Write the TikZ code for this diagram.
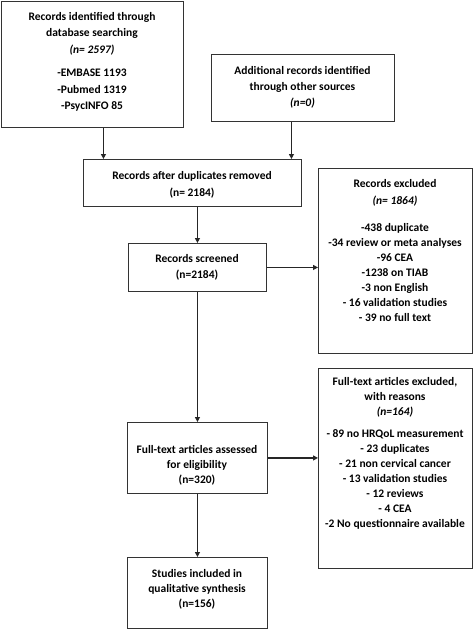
\documentclass[tikz,border=0pt]{standalone}
\usepackage{fontspec}
\setmainfont{Carlito}
\usetikzlibrary{arrows.meta}
\begin{document}
\begin{tikzpicture}[x=1pt,y=-1pt,
  box/.style={draw=black!80,line width=0.9pt,inner sep=0pt,anchor=north west},
  txt/.style={inner sep=0pt,anchor=north,align=center,font=\fontsize{11.5}{15}\selectfont\bfseries},
  arr/.style={draw=black!85,line width=1.4pt,-{Triangle[length=5pt,width=5pt]}}]
\useasboundingbox (0,0) rectangle (473,629);
% boxes
\node[box,minimum width=182pt,minimum height=126pt] (b1) at (1,1) {};
\node[box,minimum width=183pt,minimum height=67pt] (b2) at (211,54) {};
\node[box,minimum width=218pt,minimum height=47pt] (b3) at (83,159) {};
\node[box,minimum width=138pt,minimum height=48pt] (b4) at (128,243) {};
\node[box,minimum width=154pt,minimum height=185pt] (b5) at (318,168) {};
\node[box,minimum width=154pt,minimum height=200pt] (b6) at (318,368) {};
\node[box,minimum width=140pt,minimum height=71pt] (b7) at (127,422) {};
\node[box,minimum width=140pt,minimum height=71pt] (b8) at (127,557) {};
% texts
\node[txt,font=\fontsize{11.5}{16.5}\selectfont\bfseries] (t1) at (92,12) {Records identified through\\database searching\\\textit{(n= 2597)}\\[7pt]-EMBASE 1193\\-Pubmed 1319\\-PsycINFO 85};
\node[txt,font=\fontsize{11.5}{16}\selectfont\bfseries] (t2) at (302.5,66) {Additional records identified\\through other sources\\\textit{(n=0)}};
\node[txt,font=\fontsize{11.5}{17}\selectfont\bfseries] (t3) at (192,171) {Records after duplicates removed\\(n= 2184)};
\node[txt,font=\fontsize{11.5}{16}\selectfont\bfseries] (t4) at (197,254) {Records screened\\(n=2184)};
\node[txt] (t5) at (395,179) {Records excluded\\[2pt]\textit{(n= 1864)}\\[12pt]-438 duplicate\\-34 review or meta analyses\\-96 CEA\\-1238 on TIAB\\-3 non English\\- 16 validation studies\\- 39 no full text};
\node[txt] (t6) at (395,377) {Full-text articles excluded,\\with reasons\\\textit{(n=164)}\\[7pt]- 89 no HRQoL measurement\\- 23 duplicates\\- 21 non cervical cancer\\- 13 validation studies\\- 12 reviews\\- 4 CEA\\-2 No questionnaire available};
\node[txt] (t7) at (197,445) {Full-text articles assessed\\for eligibility\\(n=320)};
\node[txt] (t8) at (197,569) {Studies included in\\qualitative synthesis\\(n=156)};
% connectors
\draw[arr] ([xshift=11pt]b1.south) -- ([xshift=11pt]b1.south |- b3.north);
\draw[arr] ([xshift=-11.5pt]b2.south) -- ([xshift=-11.5pt]b2.south |- b3.north);
\draw[arr] (b3.south -| b4.north) -- (b4.north);
\draw[arr] (b4.east) -- (b4.east -| b5.west);
\draw[arr] (b4.south) -- (b7.north);
\draw[arr] (b7.east) -- (b7.east -| b6.west);
\draw[arr] (b7.south) -- (b8.north);
\end{tikzpicture}
\end{document}
